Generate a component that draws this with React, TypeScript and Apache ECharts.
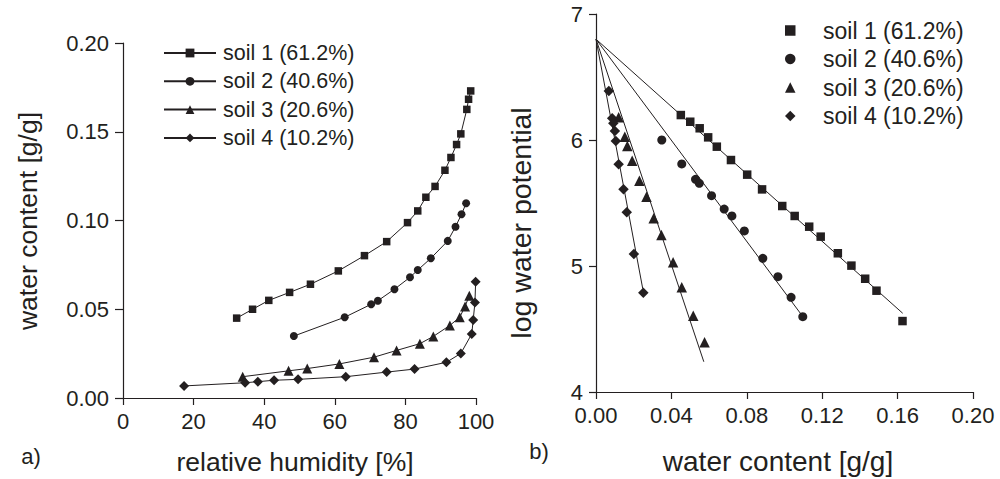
import { useEffect, useRef } from 'react';
import * as echarts from 'echarts';

// Sorption data for four soils (clay content in brackets)
const soilNames = ['soil 1 (61.2%)', 'soil 2 (40.6%)', 'soil 3 (20.6%)', 'soil 4 (10.2%)'];
const soilSymbols = ['rect', 'circle', 'triangle', 'diamond'];

// relative humidity [%]
const soil1Rh = [32.2, 36.7, 41.3, 47.2, 53.1, 61.0, 68.4, 74.7, 80.6, 83.5, 85.8, 88.4, 91.2, 92.9, 94.5, 95.7, 97.4, 97.9, 98.5];
const soil2Rh = [48.4, 62.8, 70.3, 72.2, 76.9, 81.3, 83.5, 87.2, 92.0, 94.2, 95.9, 97.2];
const soil3Rh = [33.9, 46.9, 52.2, 61.3, 71.1, 77.5, 84.1, 87.9, 92.6, 95.4, 96.9, 98.1];
const soil4Rh = [17.3, 34.6, 38.2, 42.8, 49.6, 63.1, 74.7, 82.6, 91.6, 95.7, 98.8, 99.2, 99.7, 99.9];

// water content [g/g]
const soil1Wc = [0.045, 0.050, 0.055, 0.0595, 0.0641, 0.0716, 0.0802, 0.0881, 0.0988, 0.1054, 0.1131, 0.1192, 0.1283, 0.1355, 0.1428, 0.1488, 0.1626, 0.1683, 0.173];
const soil2Wc = [0.0349, 0.0455, 0.0528, 0.0548, 0.0613, 0.068, 0.0721, 0.0787, 0.0885, 0.0965, 0.1035, 0.1097];
const soil3Wc = [0.012, 0.0153, 0.0166, 0.0192, 0.023, 0.0268, 0.0306, 0.0347, 0.0409, 0.0455, 0.0516, 0.0576];
const soil4Wc = [0.0068, 0.0086, 0.0092, 0.0100, 0.0105, 0.012, 0.0146, 0.0163, 0.0201, 0.0251, 0.0361, 0.0439, 0.0538, 0.0655];

// log water potential (first points of each series)
const soil1LogPsi = [6.198, 6.145, 6.093, 6.021, 5.947, 5.841, 5.725, 5.608, 5.476, 5.397, 5.312, 5.233, 5.101, 5.003, 4.899, 4.804, 4.563];
const soil2LogPsi = [6.0, 5.81, 5.688, 5.656, 5.558, 5.452, 5.397, 5.278, 5.061, 4.915, 4.751, 4.598];
const soil3LogPsi = [6.18, 6.026, 5.952, 5.836, 5.677, 5.55, 5.378, 5.246, 5.029, 4.831, 4.606, 4.394];
const soil4LogPsi = [6.389, 6.172, 6.132, 6.071, 5.992, 5.807, 5.609, 5.426, 5.095, 4.788];

// straight fits: common intercept at zero water content, end point of each line
const fitInterceptLogPsi = 6.8;
const fitEndWc = [0.1627, 0.1091, 0.0572, 0.0248];
const fitEndLogPsi = [4.625, 4.611, 4.24, 4.82];

const rhSeries = [soil1Rh, soil2Rh, soil3Rh, soil4Rh];
const wcSeries = [soil1Wc, soil2Wc, soil3Wc, soil4Wc];
const logPsiSeries = [soil1LogPsi, soil2LogPsi, soil3LogPsi, soil4LogPsi];

const FONT = '"Liberation Sans", Arial, Helvetica, sans-serif';
const INK = '#231f20';

const leftSymbolSize = [7.5, 8, 10, 10];
const rightSymbolSize = [8.5, 9, 10.5, 10.5];

const axisCommon = (fontSize: number, margin: number, tickLen: number, digits: number | null) => ({
  axisLine: { show: true, onZero: false, lineStyle: { color: INK, width: 1.2 } },
  axisTick: { show: true, length: tickLen, lineStyle: { color: INK, width: 1.2 } },
  axisLabel: {
    color: INK,
    fontFamily: FONT,
    fontSize,
    margin,
    formatter: (v: number) => (digits === null ? String(Math.round(v)) : v.toFixed(digits)),
  },
  splitLine: { show: false },
});

export default function App() {
  const ref = useRef<HTMLDivElement>(null);

  useEffect(() => {
    if (!ref.current) return;
    const chart = echarts.init(ref.current, undefined, { renderer: 'svg' });

    const leftSeries = soilNames.map((name, i) => ({
      name,
      type: 'line',
      xAxisIndex: 0,
      yAxisIndex: 0,
      data: rhSeries[i].map((rh, k) => [rh, wcSeries[i][k]]),
      symbol: soilSymbols[i],
      symbolSize: leftSymbolSize[i],
      showAllSymbol: true,
      itemStyle: { color: INK },
      lineStyle: { color: INK, width: 1 },
      z: 3,
    }));

    const rightPoints = soilNames.map((name, i) => ({
      name,
      type: 'scatter',
      xAxisIndex: 1,
      yAxisIndex: 1,
      data: logPsiSeries[i].map((lp, k) => [wcSeries[i][k], lp]),
      symbol: soilSymbols[i],
      symbolSize: rightSymbolSize[i],
      itemStyle: { color: INK, opacity: 1 },
      z: 3,
    }));

    const rightFits = soilNames.map((name, i) => ({
      name: `${name} fit`,
      type: 'line',
      xAxisIndex: 1,
      yAxisIndex: 1,
      data: [
        [0, fitInterceptLogPsi],
        [fitEndWc[i], fitEndLogPsi[i]],
      ],
      symbol: 'none',
      lineStyle: { color: INK, width: 1 },
      z: 2,
    }));

    chart.setOption({
      animation: false,
      backgroundColor: '#ffffff',
      textStyle: { fontFamily: FONT, color: INK },
      grid: [
        { left: 123, top: 43, width: 353, height: 355 },
        { left: 596, top: 14, width: 377, height: 378 },
      ],
      xAxis: [
        { type: 'value', gridIndex: 0, min: 0, max: 100, interval: 20, ...axisCommon(22, 12, 7, null) },
        { type: 'value', gridIndex: 1, min: 0, max: 0.2, interval: 0.04, ...axisCommon(22, 12, 7, 2) },
      ],
      yAxis: [
        { type: 'value', gridIndex: 0, min: 0, max: 0.2, interval: 0.05, ...axisCommon(22, 14, 8, 2) },
        { type: 'value', gridIndex: 1, min: 4, max: 7, interval: 1, ...axisCommon(22, 13, 7, null) },
      ],
      legend: [
        {
          orient: 'vertical',
          left: 163,
          top: 42,
          padding: 0,
          itemWidth: 52,
          itemHeight: 11,
          itemGap: 6.3,
          selectedMode: false,
          data: soilNames,
          textStyle: { fontFamily: FONT, fontSize: 21.5, lineHeight: 22, color: INK, padding: [0, 0, 0, 2] },
        },
        {
          orient: 'vertical',
          left: 785,
          top: 19,
          padding: 0,
          itemWidth: 10.5,
          itemHeight: 10.5,
          itemGap: 5.5,
          selectedMode: false,
          data: soilNames.map((name, i) => ({ name, icon: soilSymbols[i] })),
          textStyle: { fontFamily: FONT, fontSize: 23, lineHeight: 23, color: INK, padding: [0, 0, 0, 22.5] },
        },
      ],
      graphic: [
        {
          type: 'text',
          x: 295,
          y: 462,
          style: { text: 'relative humidity [%]', font: `26.5px ${FONT}`, fill: INK, textAlign: 'center', textVerticalAlign: 'middle' },
        },
        {
          type: 'text',
          x: 778,
          y: 461,
          style: { text: 'water content [g/g]', font: `28px ${FONT}`, fill: INK, textAlign: 'center', textVerticalAlign: 'middle' },
        },
        {
          type: 'text',
          x: 28,
          y: 221,
          rotation: Math.PI / 2,
          style: { text: 'water content [g/g]', font: `26.5px ${FONT}`, fill: INK, textAlign: 'center', textVerticalAlign: 'middle' },
        },
        {
          type: 'text',
          x: 521,
          y: 223,
          rotation: Math.PI / 2,
          style: { text: 'log water potential', font: `28.5px ${FONT}`, fill: INK, textAlign: 'center', textVerticalAlign: 'middle' },
        },
        {
          type: 'text',
          x: 31,
          y: 456,
          style: { text: 'a)', font: `22px ${FONT}`, fill: INK, textAlign: 'center', textVerticalAlign: 'middle' },
        },
        {
          type: 'text',
          x: 539,
          y: 451,
          style: { text: 'b)', font: `22px ${FONT}`, fill: INK, textAlign: 'center', textVerticalAlign: 'middle' },
        },
      ],
      series: [...leftSeries, ...rightPoints, ...rightFits],
    });

    return () => chart.dispose();
  }, []);

  return (
    <div
      ref={ref}
      style={{ position: 'fixed', left: 0, top: 0, width: 1000, height: 479, background: '#fff' }}
    />
  );
}
